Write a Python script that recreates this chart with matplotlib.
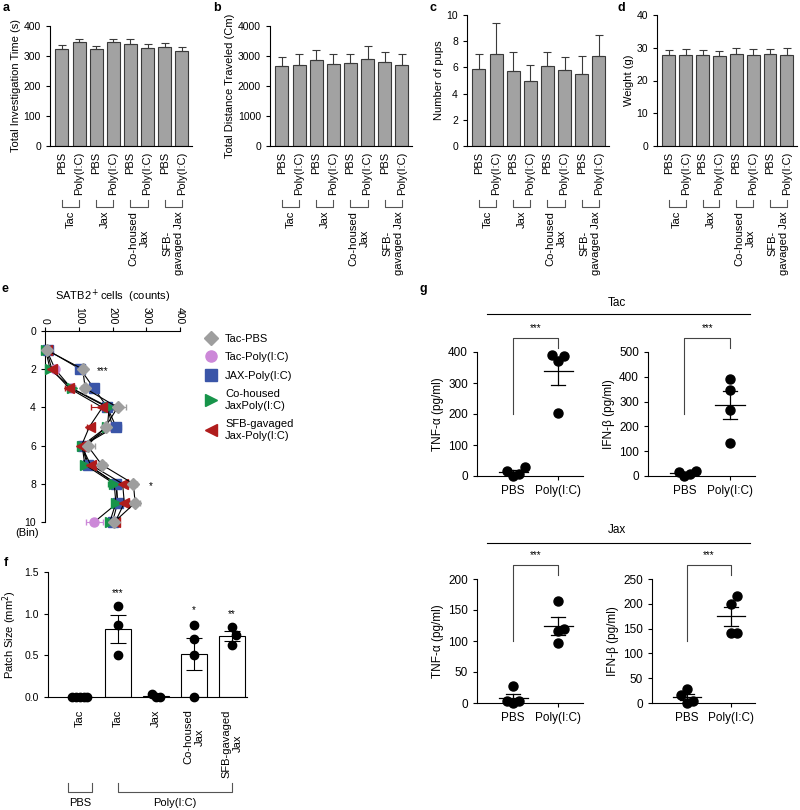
import numpy as np
import matplotlib
matplotlib.use('Agg')
import matplotlib.pyplot as plt
from matplotlib.lines import Line2D
from matplotlib.transforms import blended_transform_factory

plt.rcParams['font.family'] = ['Liberation Sans', 'DejaVu Sans']
plt.rcParams['font.size'] = 8
plt.rcParams['axes.linewidth'] = 0.8
plt.rcParams['xtick.major.width'] = 0.8
plt.rcParams['ytick.major.width'] = 0.8
plt.rcParams['xtick.major.size'] = 3
plt.rcParams['ytick.major.size'] = 3
plt.rcParams['xtick.labelsize'] = 7.5
plt.rcParams['ytick.labelsize'] = 7.5

# ---------------- data: panels a-d ----------------
bar_labels = ['PBS', 'Poly(I:C)'] * 4
group_labels = ['Tac', 'Jax', 'Co-housed\nJax', 'SFB-\ngavaged Jax']

invest_time = [325, 348, 324, 346, 341, 328, 330, 316]
invest_err = [11, 8, 10, 10, 15, 13, 13, 14]
distance = [2660, 2690, 2860, 2750, 2770, 2890, 2800, 2710]
distance_err = [310, 390, 330, 330, 310, 430, 330, 350]
pups = [5.9, 7.0, 5.7, 5.0, 6.1, 5.8, 5.5, 6.85]
pups_err = [1.15, 2.4, 1.45, 1.15, 1.05, 1.0, 1.35, 1.6]
weight = [27.7, 27.7, 27.7, 27.4, 28.0, 27.9, 28.0, 27.8]
weight_err = [1.7, 1.8, 1.5, 1.6, 1.8, 1.7, 1.5, 2.2]

# ---------------- data: panel e ----------------
bins = np.arange(1, 11)
tac_pbs = [5, 112, 119, 215, 180, 126, 168, 262, 267, 205]
tac_pbs_err = [3, 10, 12, 25, 12, 22, 12, 12, 15, 14]
tac_poly = [5, 30, 78, 185, 200, 110, 125, 212, 215, 146]
tac_poly_err = [3, 5, 10, 20, 15, 10, 10, 20, 15, 25]
jax_poly = [8, 105, 145, 185, 210, 112, 128, 210, 215, 200]
jax_poly_err = [3, 10, 10, 15, 15, 8, 15, 15, 10, 14]
cohoused_poly = [2, 15, 80, 190, 185, 110, 118, 205, 210, 192]
cohoused_poly_err = [3, 6, 10, 15, 10, 8, 10, 18, 10, 12]
sfb_poly = [5, 20, 72, 170, 132, 108, 135, 230, 235, 208]
sfb_poly_err = [3, 6, 12, 35, 8, 8, 12, 15, 12, 10]

# ---------------- data: panel f ----------------
f_labels = ['Tac', 'Tac', 'Jax', 'Co-housed\nJax', 'SFB-gavaged\nJax']
f_points = [
    [0, 0, 0, 0, 0],
    [1.09, 0.86, 0.50],
    [0.04, 0.0, 0.0],
    [0.87, 0.70, 0.50, 0.0],
    [0.84, 0.74, 0.62],
]
f_stars = ['', '***', '', '*', '**']
f_star_y = [0, 1.25, 0, 1.04, 1.0]

# ---------------- data: panel g ----------------
g_groups = ['PBS', 'Poly(I:C)']
tac_tnf = [[17, 0, 7, 28], [387, 390, 372, 202]]
tac_ifn = [[16, 0, 8, 21], [392, 347, 266, 134]]
jax_tnf = [[28, 4, 0, 3], [165, 119, 116, 96]]
jax_ifn = [[16, 28, 0, 4], [216, 200, 142, 142]]

W, H = 800, 810
fig = plt.figure(figsize=(W / 100, H / 100), dpi=100)


def px_axes(l, t, r, b):
    return fig.add_axes([l / W, 1 - b / H, (r - l) / W, (b - t) / H])


def fy(ypx):
    return 1 - ypx / H


def clean(ax):
    ax.spines['top'].set_visible(False)
    ax.spines['right'].set_visible(False)


def swarm(vals, thr, step):
    vals = np.asarray(vals, float)
    offs = np.zeros(len(vals))
    placed = []
    for i in np.argsort(vals, kind='stable'):
        for k in [0, 1, -1, 2, -2, 3, -3]:
            o = k * step
            if all(abs(vals[i] - vals[j]) >= thr or abs(o - offs[j]) > step * 0.5
                   for j in placed):
                break
        offs[i] = o
        placed.append(i)
    return offs


def bar_panel(ax, vals, errs, ymax, ystep, ylabel):
    x = np.arange(len(vals))
    ax.bar(x, vals, width=0.76, color='#a2a2a2', edgecolor='#3a3a3a', linewidth=0.8,
           yerr=[np.zeros(len(vals)), errs],
           error_kw=dict(ecolor='#3a3a3a', elinewidth=0.8, capsize=3, capthick=0.8))
    clean(ax)
    ax.set_xlim(-0.7, 7.6)
    ax.set_ylim(0, ymax)
    ax.set_yticks(np.arange(0, ymax + ystep / 2, ystep))
    ax.set_xticks(x)
    ax.set_xticklabels(bar_labels, rotation=90, fontsize=8)
    ax.tick_params(axis='x', length=0, pad=4)
    ax.set_ylabel(ylabel, fontsize=8, labelpad=2)
    tr = blended_transform_factory(ax.transData, fig.transFigure)
    for g, name in enumerate(group_labels):
        x0, x1 = 2 * g, 2 * g + 1
        ax.plot([x0, x0, x1, x1], [fy(200), fy(207), fy(207), fy(200)], color='#555555',
                lw=0.8, transform=tr, clip_on=False)
        ax.text((x0 + x1) / 2, fy(211), name, rotation=90, ha='center', va='top',
                multialignment='center', fontsize=8, transform=tr)


ax_a = px_axes(50, 26, 192, 146)
bar_panel(ax_a, invest_time, invest_err, 400, 100, 'Total Investigation Time (s)')
ax_b = px_axes(270, 26, 412, 146)
bar_panel(ax_b, distance, distance_err, 4000, 1000, 'Total Distance Traveled (Cm)')
ax_c = px_axes(467, 15, 609, 146)
bar_panel(ax_c, pups, pups_err, 10, 2, 'Number of pups')
ax_d = px_axes(657, 15, 797, 146)
bar_panel(ax_d, weight, weight_err, 40, 10, 'Weight (g)')

# ---------------- panel e ----------------
ax_e = px_axes(45, 331, 180, 522)
e_series = [
    ('Tac-PBS', tac_pbs, tac_pbs_err, 'D', '#9e9e9e'),
    ('Tac-Poly(I:C)', tac_poly, tac_poly_err, 'o', '#cc88d8'),
    ('JAX-Poly(I:C)', jax_poly, jax_poly_err, 's', '#3a55a8'),
    ('Co-housed\nJaxPoly(I:C)', cohoused_poly, cohoused_poly_err, '>', '#17944a'),
    ('SFB-gavaged\nJax-Poly(I:C)', sfb_poly, sfb_poly_err, '<', '#b01c1c'),
]
# pink series sits underneath the others, as in the original
draw_order = [1, 2, 3, 4, 0]
for i in draw_order:
    name, vals, errs, m, c = e_series[i]
    ax_e.errorbar(vals, bins, xerr=errs, color='black', lw=0.8, marker=m,
                  ms=6.5 if m != 'D' else 6, mfc=c, mec=c, ecolor=c, elinewidth=0.8,
                  capsize=2.5, clip_on=False, zorder=3)
ax_e.set_xlim(0, 400)
ax_e.set_ylim(10, 0)
ax_e.set_yticks([0, 2, 4, 6, 8, 10])
ax_e.set_xticks([0, 100, 200, 300, 400])
ax_e.xaxis.tick_top()
ax_e.xaxis.set_label_position('top')
ax_e.spines['right'].set_visible(False)
ax_e.spines['bottom'].set_visible(False)
ax_e.tick_params(axis='x', labelrotation=-90, pad=2)
ax_e.set_xlabel('SATB2$^+$cells  (counts)', fontsize=8, labelpad=5)
ax_e.text(-0.13, -0.06, '(Bin)', transform=ax_e.transAxes, ha='center', va='center', fontsize=8)
ax_e.text(172, 2.1, '***', ha='center', va='center', fontsize=7)
ax_e.text(312, 8.1, '*', ha='center', va='center', fontsize=7)
handles = [Line2D([], [], marker=m, color=c, linestyle='none', ms=8 if m != 'D' else 7)
           for _, _, _, m, c in e_series]
ax_e.legend(handles, [s[0] for s in e_series], loc='upper left',
            bbox_to_anchor=(204 / W, fy(334)), bbox_transform=fig.transFigure,
            frameon=False, fontsize=8, handletextpad=0.7, labelspacing=0.75,
            handlelength=1.2, borderaxespad=0, borderpad=0)

# ---------------- panel f ----------------
ax_f = px_axes(48, 572, 247, 697)
for i, pts in enumerate(f_points):
    pts = np.asarray(pts, float)
    mean = pts.mean()
    sem = pts.std(ddof=1) / np.sqrt(len(pts))
    ax_f.bar(i, mean, width=0.7, color='white', edgecolor='black', linewidth=0.8, zorder=1)
    if sem > 0:
        ax_f.errorbar(i, mean, yerr=sem, color='black', elinewidth=0.8, capsize=6,
                      capthick=0.8, zorder=2)
    offs = swarm(pts, 0.13, 0.1)
    ax_f.plot(i + offs, pts, 'o', color='black', ms=6, clip_on=False, zorder=3)
    if f_stars[i]:
        ax_f.text(i, f_star_y[i], f_stars[i], ha='center', va='center', fontsize=7)
clean(ax_f)
ax_f.set_xlim(-0.84, 4.4)
ax_f.set_ylim(0, 1.5)
ax_f.set_yticks([0, 0.5, 1.0, 1.5])
ax_f.set_yticklabels(['0.0', '0.5', '1.0', '1.5'])
ax_f.set_xticks(range(5))
ax_f.set_xticklabels(f_labels, rotation=90, fontsize=8, multialignment='center')
ax_f.tick_params(axis='x', length=0, pad=9)
ax_f.set_ylabel('Patch Size (mm$^2$)', fontsize=8, labelpad=4)
tr_f = blended_transform_factory(ax_f.transData, fig.transFigure)
for x0, x1, name in [(-0.31, 0.33, 'PBS'), (1.0, 4.0, 'Poly(I:C)')]:
    ax_f.plot([x0, x0, x1, x1], [fy(783), fy(792), fy(792), fy(783)], color='#555555',
              lw=0.8, transform=tr_f, clip_on=False)
    ax_f.text((x0 + x1) / 2, fy(803), name, ha='center', va='center', fontsize=8,
              transform=tr_f)

# ---------------- panel g ----------------
def dot_panel(ax, data, ymax, ystep, ylabel):
    for i, pts in enumerate(data):
        pts = np.asarray(pts, float)
        mean = pts.mean()
        sem = pts.std(ddof=1) / np.sqrt(len(pts))
        ax.plot(i + swarm(pts, ymax * 0.07, 0.13), pts, 'o', color='black', ms=6.5,
                clip_on=False, zorder=3)
        ax.plot([i - 0.32, i + 0.32], [mean, mean], color='black', lw=0.9, zorder=2)
        ax.plot([i, i], [mean - sem, mean + sem], color='black', lw=0.9, zorder=2)
        for v in (mean - sem, mean + sem):
            ax.plot([i - 0.16, i + 0.16], [v, v], color='black', lw=0.9, zorder=2)
    clean(ax)
    ax.set_xlim(-0.8, 1.55)
    ax.set_ylim(0, ymax)
    ax.set_yticks(np.arange(0, ymax + ystep / 2, ystep))
    ax.set_xticks([0, 1])
    ax.set_xticklabels(g_groups, fontsize=8.5)
    ax.tick_params(axis='y', labelsize=8.5)
    ax.set_ylabel(ylabel, fontsize=8.5, labelpad=3)
    tr = blended_transform_factory(ax.transData, ax.transAxes)
    ax.plot([0, 0, 1, 1], [0.5, 1.115, 1.115, 1.03], color='#444444', lw=0.8,
            transform=tr, clip_on=False)
    ax.text(0.5, 1.19, '***', ha='center', va='center', fontsize=7, transform=tr)


ax_g1 = px_axes(477, 352, 583, 476)
dot_panel(ax_g1, tac_tnf, 400, 100, 'TNF-α (pg/ml)')
ax_g2 = px_axes(648, 352, 755, 476)
dot_panel(ax_g2, tac_ifn, 500, 100, 'IFN-β (pg/ml)')
ax_g3 = px_axes(477, 579, 583, 703)
dot_panel(ax_g3, jax_tnf, 200, 50, 'TNF-α (pg/ml)')
ax_g4 = px_axes(652, 579, 755, 703)
dot_panel(ax_g4, jax_ifn, 250, 50, 'IFN-β (pg/ml)')

for title, ty, ly in [('Tac', 303, 314), ('Jax', 530, 543)]:
    fig.text(617 / W, fy(ty), title, ha='center', va='center', fontsize=8.5)
    fig.add_artist(Line2D([487 / W, 750 / W], [fy(ly), fy(ly)], color='black', lw=0.8))

# panel letters
for letter, x, y in [('a', 3, 2), ('b', 213, 2), ('c', 430, 2), ('d', 617, 2),
                     ('e', 2, 283), ('f', 4, 557), ('g', 420, 283)]:
    fig.text(x / W, fy(y), letter, fontsize=9, fontweight='bold', ha='left', va='top')

fig.savefig('out.png', dpi=100, facecolor='white')
